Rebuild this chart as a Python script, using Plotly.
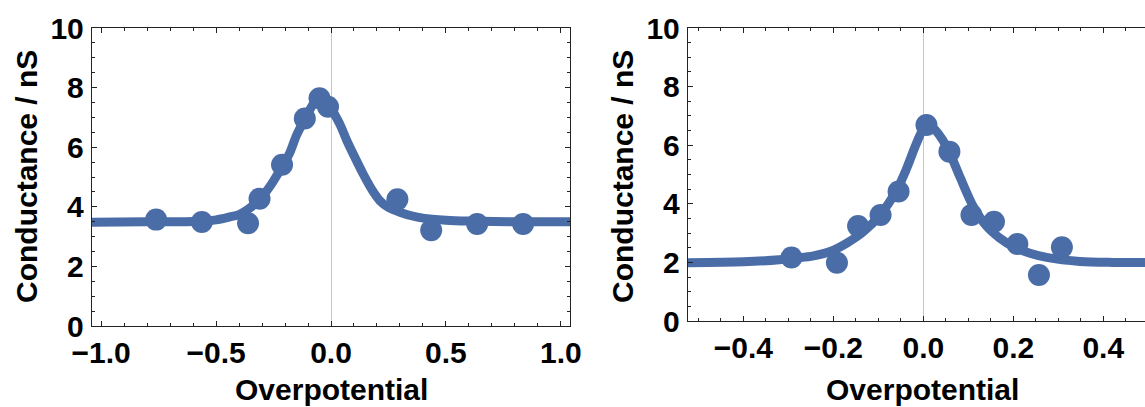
import plotly.graph_objects as go

W, H = 1145, 407
BLUE = "#4a6da7"
FONT = "Liberation Sans"

# ---- Left panel data ----
left_pts_x = [-0.761, -0.562, -0.361, -0.311, -0.213, -0.114, -0.050, -0.013, 0.289, 0.436, 0.636, 0.836]
left_pts_y = [3.57, 3.49, 3.45, 4.27, 5.41, 6.96, 7.64, 7.36, 4.25, 3.21, 3.42, 3.42]
left_fit_x = [-1.04, -0.8, -0.6, -0.5, -0.44, -0.4, -0.36, -0.31, -0.26, -0.22, -0.18, -0.15,
              -0.11, -0.077, -0.048, -0.02, 0.009, 0.04, 0.068, 0.1, 0.14, 0.18, 0.213, 0.25,
              0.3, 0.35, 0.4, 0.5, 0.6, 0.8, 1.04]
left_fit_y = [3.48, 3.50, 3.51, 3.56, 3.66, 3.74, 3.92, 4.25, 4.75, 5.25, 5.80, 6.40,
              7.00, 7.45, 7.68, 7.60, 7.20, 6.75, 6.24, 5.72, 5.10, 4.55, 4.20, 3.98,
              3.82, 3.70, 3.62, 3.55, 3.52, 3.50, 3.50]

# ---- Right panel data ----
right_pts_x = [-0.293, -0.192, -0.145, -0.095, -0.055, 0.007, 0.058, 0.107, 0.157, 0.209, 0.257, 0.308]
right_pts_y = [2.17, 1.99, 3.24, 3.62, 4.42, 6.69, 5.78, 3.62, 3.39, 2.63, 1.57, 2.52]
right_fit_x = [-0.523, -0.4, -0.32, -0.244, -0.207, -0.17, -0.133, -0.096, -0.059, -0.037,
               -0.015, 0.004, 0.022, 0.052, 0.081, 0.111, 0.141, 0.17, 0.2, 0.237, 0.274,
               0.348, 0.42, 0.5]
right_fit_y = [1.99, 2.02, 2.09, 2.22, 2.37, 2.66, 3.05, 3.62, 4.47, 5.21,
               6.07, 6.64, 6.58, 5.95, 4.93, 3.91, 3.23, 2.83, 2.54, 2.31, 2.17,
               2.03, 2.00, 2.00]

left_xticks = [-1.0, -0.5, 0.0, 0.5, 1.0]
left_xticklabels = ["\u22121.0", "\u22120.5", "0.0", "0.5", "1.0"]
right_xticks = [-0.4, -0.2, 0.0, 0.2, 0.4]
right_xticklabels = ["\u22120.4", "\u22120.2", "0.0", "0.2", "0.4"]
yticks = [0, 2, 4, 6, 8, 10]
x_title = "Overpotential"
y_title = "Conductance / nS"

fig = go.Figure()
fig.add_trace(go.Scatter(x=left_fit_x, y=left_fit_y, mode="lines",
                         line=dict(color=BLUE, width=9, shape="spline", smoothing=0.8),
                         xaxis="x", yaxis="y", hoverinfo="skip"))
fig.add_trace(go.Scatter(x=left_pts_x, y=left_pts_y, mode="markers",
                         marker=dict(color=BLUE, size=22, line=dict(width=0)),
                         xaxis="x", yaxis="y"))
fig.add_trace(go.Scatter(x=right_fit_x, y=right_fit_y, mode="lines",
                         line=dict(color=BLUE, width=9, shape="spline", smoothing=0.8),
                         xaxis="x2", yaxis="y2", hoverinfo="skip"))
fig.add_trace(go.Scatter(x=right_pts_x, y=right_pts_y, mode="markers",
                         marker=dict(color=BLUE, size=22, line=dict(width=0)),
                         xaxis="x2", yaxis="y2"))

tickfont = dict(family=FONT, size=30, color="black", weight="bold")
axcommon = dict(showgrid=False, showline=True, linecolor="#222", linewidth=1.4,
                ticks="inside", tickcolor="#222", tickwidth=1, ticklen=5,
                tickfont=tickfont, automargin=False)

def px_x(p):
    return p / W

def px_y(p):
    return (H - p) / H

fig.update_layout(
    width=W, height=H, margin=dict(l=0, r=0, t=0, b=0, autoexpand=False),
    paper_bgcolor="white", plot_bgcolor="white", showlegend=False,
    xaxis=dict(domain=[px_x(92), px_x(570)], range=[-1.04, 1.04], anchor="y",
               tickvals=left_xticks, ticktext=left_xticklabels,
               mirror="ticks", zeroline=True, zerolinecolor="#c8c8c8", zerolinewidth=1,
               ticklabelstandoff=0,
               minor=dict(dtick=0.1, tick0=0, ticks="inside", ticklen=3, tickcolor="#222"),
               **axcommon),
    yaxis=dict(domain=[px_y(326), px_y(28)], range=[0, 10], anchor="x",
               tickvals=yticks, mirror="ticks", zeroline=False,
               ticklabelstandoff=1,
               minor=dict(dtick=0.5, tick0=0, ticks="inside", ticklen=3, tickcolor="#222"),
               **axcommon),
    xaxis2=dict(domain=[px_x(688), 1.0], range=[-0.523, 0.4927], anchor="y2",
                tickvals=right_xticks, ticktext=right_xticklabels,
                mirror="ticks", zeroline=True, zerolinecolor="#c8c8c8", zerolinewidth=1,
                ticklabelstandoff=0,
                minor=dict(dtick=0.05, tick0=0, ticks="inside", ticklen=3, tickcolor="#222"),
                **axcommon),
    yaxis2=dict(domain=[px_y(321), px_y(28)], range=[0, 10], anchor="x2",
                tickvals=yticks, mirror=False, zeroline=False,
                ticklabelstandoff=1,
                minor=dict(dtick=0.5, tick0=0, ticks="inside", ticklen=3, tickcolor="#222"),
                **axcommon),
)

titlefont = dict(family=FONT, size=30, color="black", weight="bold")
fig.add_annotation(text=x_title, xref="paper", yref="paper", x=px_x(331), y=px_y(389),
                   xanchor="center", yanchor="middle", showarrow=False, font=titlefont)
fig.add_annotation(text=x_title, xref="paper", yref="paper", x=px_x(922), y=px_y(389),
                   xanchor="center", yanchor="middle", showarrow=False, font=titlefont)
fig.add_annotation(text=y_title, xref="paper", yref="paper", x=px_x(26), y=px_y(177),
                   xanchor="center", yanchor="middle", textangle=-90, showarrow=False, font=titlefont)
fig.add_annotation(text=y_title, xref="paper", yref="paper", x=px_x(622), y=px_y(177),
                   xanchor="center", yanchor="middle", textangle=-90, showarrow=False, font=titlefont)

fig.write_html("out.html", config={"displayModeBar": False},
               post_script="document.body.style.margin='0';document.body.style.overflow='hidden';")
